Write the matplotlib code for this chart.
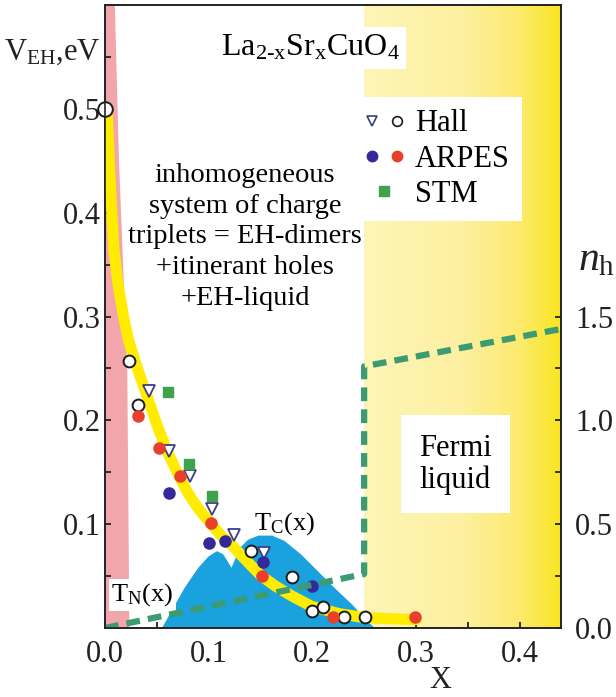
import numpy as np
import matplotlib
matplotlib.use('Agg')
from matplotlib import pyplot as plt
from matplotlib import rc
from matplotlib.colors import LinearSegmentedColormap
from matplotlib.legend_handler import HandlerTuple
from matplotlib.lines import Line2D
from matplotlib.ticker import FormatStrFormatter

rc('font', family='Liberation Serif', size=20)
rc('mathtext', fontset='custom', rm='Liberation Serif', it='Liberation Serif:italic',
   bf='Liberation Serif:bold')

# pseudogap energy V_EH(x) (thick yellow band)
curve_x = [0.002, 0.004, 0.006, 0.0087, 0.0125, 0.018, 0.023, 0.029, 0.035, 0.040,
           0.050, 0.060, 0.070, 0.080, 0.090, 0.100, 0.112, 0.125, 0.140, 0.151,
           0.165, 0.180, 0.199, 0.225, 0.250, 0.275, 0.300]
curve_v = [0.500, 0.450, 0.410, 0.363, 0.331, 0.299, 0.276, 0.257, 0.239, 0.225,
           0.196, 0.170, 0.149, 0.130, 0.115, 0.103, 0.089, 0.077, 0.061, 0.050,
           0.040, 0.031, 0.021, 0.014, 0.010, 0.009, 0.008]

# Hall data
hall_circ_x = [0.023, 0.032, 0.141, 0.180, 0.200, 0.210, 0.231, 0.251]
hall_circ_v = [0.257, 0.215, 0.074, 0.049, 0.016, 0.020, 0.011, 0.011]
hall_tri_x = [0.042, 0.062, 0.082, 0.103, 0.124, 0.153]
hall_tri_v = [0.228, 0.170, 0.146, 0.115, 0.090, 0.072]

# ARPES data
arpes_red_x = [0.032, 0.052, 0.072, 0.102, 0.151, 0.220, 0.299]
arpes_red_v = [0.204, 0.173, 0.146, 0.101, 0.050, 0.011, 0.011]
arpes_blue_x = [0.062, 0.100, 0.116, 0.152, 0.200]
arpes_blue_v = [0.130, 0.082, 0.084, 0.064, 0.040]

# STM data
stm_x = [0.061, 0.081, 0.103]
stm_v = [0.227, 0.158, 0.127]

# superconducting dome T_C(x) (arbitrary units on V scale)
dome_x = [0.055, 0.064, 0.077, 0.090, 0.100, 0.108, 0.114, 0.119, 0.122, 0.125,
          0.130, 0.138, 0.148, 0.161, 0.173, 0.189, 0.205, 0.221, 0.238, 0.250, 0.260]
dome_v = [0.000, 0.016, 0.039, 0.058, 0.069, 0.074, 0.071, 0.063, 0.058, 0.065,
          0.077, 0.085, 0.089, 0.089, 0.084, 0.071, 0.055, 0.039, 0.023, 0.010, 0.000]

# antiferromagnetic strip T_N(x)
pink_v = [0.0, 0.25, 0.45, 0.6]
pink_x = [0.023, 0.021, 0.013, 0.009]

# hole density n_h (right axis)
nh_x = [0.0, 0.25, 0.25, 0.44]
nh_n = [0.0, 0.26, 1.26, 1.44]

fig = plt.figure(figsize=(6.16, 6.97), dpi=100)
ax = fig.add_axes([0.1705, 0.099, 0.7403, 0.8938])

# Fermi liquid region, shaded with a horizontal gradient
fl_cmap = LinearSegmentedColormap.from_list(
    'fl', [(0.0, '#fef5b8'), (0.5, '#fdf0a0'), (0.8, '#fcea6c'), (1.0, '#fae51e')])
grad = np.linspace(0, 1, 256).reshape(1, -1)
ax.imshow(grad, extent=[0.25, 0.44, 0, 0.6], aspect='auto', cmap=fl_cmap, zorder=0)

ax.fill_betweenx(pink_v, 0, pink_x, color='#f2a6ab', lw=0, zorder=1)
ax.fill(dome_x, dome_v, color='#19a2dd', lw=0, zorder=2)
ax.plot(curve_x, curve_v, color='#ffec00', lw=8, solid_capstyle='round',
        solid_joinstyle='round', zorder=3)

ax.plot(hall_circ_x, hall_circ_v, ls='none', marker='o', ms=8.5, mfc='white',
        mec='#1a1a1a', mew=1.4, zorder=5)
ax.plot([0.0], [0.5], ls='none', marker='o', ms=10.5, mfc='white', mec='#1a1a1a',
        mew=1.4, zorder=6, clip_on=False)
ax.plot(hall_tri_x, hall_tri_v, ls='none', marker='v', ms=8, mfc='white',
        mec='#3b3f80', mew=1.3, zorder=5)
ax.plot(arpes_red_x, arpes_red_v, ls='none', marker='o', ms=8, color='#e8402a', zorder=5)
ax.plot(arpes_blue_x, arpes_blue_v, ls='none', marker='o', ms=8, color='#35299a', zorder=5)
ax.plot(stm_x, stm_v, ls='none', marker='s', ms=7.5, color='#3fa34d', zorder=5)

ax.set_xlim(0, 0.44)
ax.set_ylim(0, 0.6)
ax.set_xticks([0.0, 0.1, 0.2, 0.3, 0.4])
ax.set_xticks([0.05, 0.15, 0.25, 0.35], minor=True)
ax.set_yticks([0.1, 0.2, 0.3, 0.4, 0.5])
ax.set_yticks([0.05, 0.15, 0.25, 0.35, 0.45, 0.55], minor=True)
ax.xaxis.set_major_formatter(FormatStrFormatter('%.1f'))
ax.yaxis.set_major_formatter(FormatStrFormatter('%.1f'))
ax.tick_params(which='both', direction='in', length=4, width=1.3, colors='#222222',
               labelcolor='#222222', labelsize=22)
ax.tick_params(axis='x', pad=9)
ax.tick_params(axis='y', pad=3)
for sp in ax.spines.values():
    sp.set_linewidth(1.2)
    sp.set_color('#222222')

# hole density on the right axis
ax2 = ax.twinx()
ax2.plot(nh_x, nh_n, color='#3d9b74', lw=4.5, dashes=(2.2, 1.3))
ax2.set_xlim(0, 0.44)
ax2.set_ylim(0, 3.0)
ax2.set_yticks([0.0, 0.5, 1.0, 1.5])
ax2.set_yticks([0.25, 0.75, 1.25], minor=True)
ax2.yaxis.set_major_formatter(FormatStrFormatter('%.1f'))
ax2.tick_params(which='both', direction='in', length=4, width=1.3, colors='#222222',
                labelcolor='#222222', labelsize=22, pad=10)
for sp in ax2.spines.values():
    sp.set_linewidth(1.2)
    sp.set_color('#222222')

# annotations
white = dict(facecolor='white', edgecolor='none')
ax.text(0.45, 0.931, r'La$_{\mathrm{2}\text{-}\mathrm{x}}$Sr$_{\mathrm{x}}$CuO$_{4}$',
        transform=ax.transAxes, ha='center', va='center', fontsize=23,
        bbox=dict(boxstyle='square,pad=0.2', **white), zorder=7)
ax.text(0.307, 0.628, 'inhomogeneous\nsystem of charge\ntriplets = EH-dimers\n'
        '+itinerant holes\n+EH-liquid', transform=ax.transAxes, ha='center',
        va='center', fontsize=20.5, linespacing=1.3, zorder=7)
ax.text(0.768, 0.263, 'Fermi\nliquid', transform=ax.transAxes, ha='center',
        va='center', fontsize=22, linespacing=1.1,
        bbox=dict(boxstyle='square,pad=0.6', **white), zorder=7)
ax.text(0.173, 0.101, r'T$_{\mathrm{C}}$(x)', ha='center', va='center', fontsize=19, zorder=7)
ax.text(0.036, 0.032, r'T$_{\mathrm{N}}$(x)', ha='center', va='center', fontsize=19,
        bbox=dict(boxstyle='square,pad=0.1', **white), zorder=7)

tri = Line2D([], [], ls='none', marker='v', ms=7, mfc='white', mec='#3b3f80', mew=1.2)
circ = Line2D([], [], ls='none', marker='o', ms=7, mfc='white', mec='#1a1a1a', mew=1.2)
blue = Line2D([], [], ls='none', marker='o', ms=7.5, color='#35299a')
red = Line2D([], [], ls='none', marker='o', ms=7.5, color='#e8402a')
sq = Line2D([], [], ls='none', marker='s', ms=7, color='#3fa34d')
leg = ax.legend([(tri, circ), (blue, red), sq], ['Hall', 'ARPES', 'STM'],
                handler_map={tuple: HandlerTuple(ndivide=None, pad=0.25)},
                loc='upper right', bbox_to_anchor=(0.914, 0.852), borderaxespad=0,
                frameon=True, fancybox=False, framealpha=1, edgecolor='none',
                facecolor='white', handlelength=1.4, handletextpad=0.3,
                labelspacing=0.2, borderpad=0.4, fontsize=22)
leg.set_zorder(8)

fig.text(100 / 616, 1 - 52 / 697, r'V$_{\mathrm{EH}}$,eV', ha='right', va='center',
         fontsize=22, color='#222222')
fig.text(578 / 616, 1 - 260 / 697, r'$n_{\mathrm{h}}$', ha='left', va='center',
         fontsize=30, color='#222222')
fig.text(440 / 616, 1 - 695 / 697, 'X', ha='center', va='bottom', fontsize=22,
         color='#222222')

fig.savefig('out.png', dpi=100)
